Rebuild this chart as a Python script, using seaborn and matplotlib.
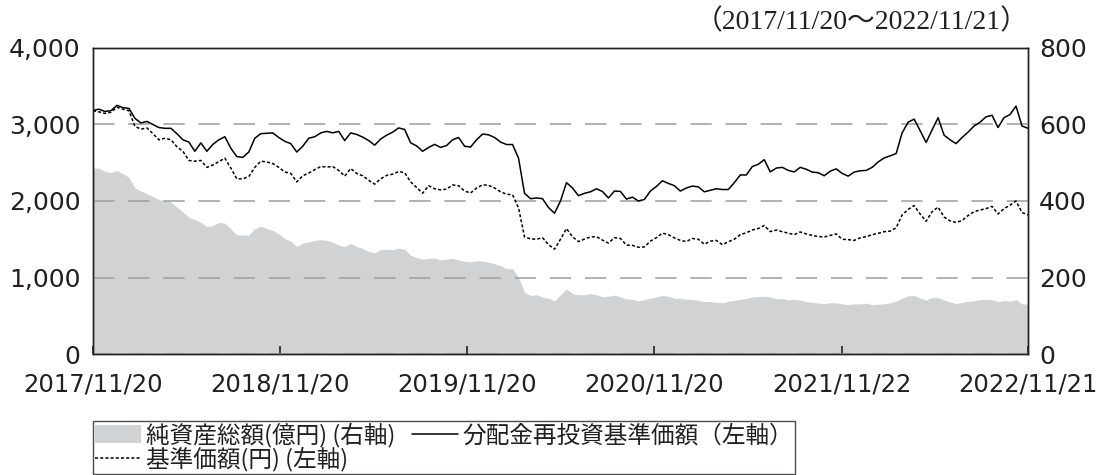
import numpy as np
import pandas as pd
import matplotlib
matplotlib.use("Agg")
import matplotlib.pyplot as plt
import seaborn as sns
from matplotlib.patches import Patch
from matplotlib.lines import Line2D

# データ (チャートから読み取り、約12日間隔)
START, END = "2017-11-20", "2022-11-21"

reinvest_nav = [  # 分配金再投資基準価額 (左軸)
    3184, 3200, 3170, 3180, 3250, 3220, 3210, 3080, 3020, 3040, 3000, 2960, 2950, 2950,
    2880, 2800, 2770, 2650, 2760, 2650, 2740, 2800, 2840, 2690, 2580, 2570, 2640,
    2820, 2880, 2885, 2890, 2830, 2780, 2750, 2640, 2716, 2820, 2840, 2890, 2910, 2891,
    2910, 2790, 2890, 2870, 2835, 2790, 2730, 2810, 2860, 2900, 2955, 2935,
    2760, 2720, 2650, 2700, 2740, 2700, 2725, 2800, 2830, 2716, 2705, 2800, 2875, 2865,
    2830, 2770, 2738, 2738, 2560, 2100, 2030, 2040, 2030, 1915, 1840,
    2000, 2240, 2170, 2070, 2100, 2120, 2160, 2124, 2040, 2130, 2125, 2025, 2050, 2000,
    2020, 2130, 2190, 2264, 2230, 2200, 2130, 2170, 2195, 2185, 2120, 2140,
    2160, 2150, 2150, 2240, 2340, 2340, 2450, 2480, 2540, 2380, 2430, 2440, 2400, 2380,
    2440, 2415, 2378, 2370, 2330, 2390, 2420, 2360, 2325, 2378, 2395, 2400,
    2440, 2510, 2562, 2590, 2620, 2890, 3030, 3070, 2920, 2765, 2930, 3088, 2860, 2800,
    2750, 2830, 2900, 2980, 3030, 3100, 3120, 2960, 3090, 3130, 3240, 2980, 2950,
]

base_nav = [  # 基準価額 (左軸)
    3180, 3165, 3145, 3160, 3225, 3200, 3180, 2975, 2940, 2955, 2880, 2800, 2820, 2800,
    2710, 2650, 2530, 2520, 2530, 2440, 2470, 2515, 2560, 2430, 2290, 2290, 2320,
    2440, 2520, 2510, 2490, 2440, 2380, 2360, 2250, 2330, 2365, 2410, 2450, 2445, 2450,
    2400, 2325, 2425, 2360, 2330, 2270, 2220, 2290, 2335, 2350, 2385, 2370,
    2250, 2175, 2102, 2200, 2160, 2146, 2155, 2210, 2200, 2130, 2105, 2170, 2212, 2205,
    2170, 2120, 2089, 2081, 1910, 1530, 1505, 1500, 1520, 1430, 1370,
    1500, 1640, 1533, 1470, 1502, 1530, 1533, 1489, 1450, 1520, 1511, 1424, 1420, 1395,
    1400, 1475, 1520, 1580, 1560, 1518, 1485, 1470, 1510, 1500, 1435, 1475,
    1485, 1430, 1467, 1500, 1560, 1585, 1621, 1640, 1680, 1600, 1620, 1599, 1580, 1560,
    1595, 1570, 1550, 1535, 1530, 1550, 1570, 1500, 1495, 1485, 1518, 1535,
    1560, 1577, 1599, 1606, 1650, 1818, 1890, 1940, 1830, 1735, 1860, 1920, 1790, 1740,
    1720, 1745, 1810, 1860, 1883, 1900, 1930, 1830, 1900, 1945, 2000, 1850, 1818,
]

net_assets = [  # 純資産総額 億円 (右軸)
    486, 486, 478, 474, 480, 471, 462, 434, 426, 419, 412, 403, 402, 397,
    384, 372, 357, 351, 344, 333, 336, 344, 342, 327, 311, 311, 311,
    328, 334, 328, 323, 314, 302, 295, 281, 290, 293, 297, 299, 297, 292,
    285, 281, 289, 281, 276, 268, 265, 273, 274, 273, 277, 274,
    258, 252, 248, 250, 251, 246, 248, 250, 246, 242, 241, 244, 243, 240,
    236, 231, 223, 223, 200, 161, 153, 155, 149, 146, 139,
    155, 170, 158, 155, 155, 158, 155, 150, 151, 154, 149, 144, 143, 139,
    142, 146, 149, 153, 151, 145, 146, 143, 143, 140, 137, 137,
    135, 134, 138, 140, 143, 145, 149, 150, 151, 149, 145, 145, 141, 143,
    141, 137, 135, 133, 132, 134, 134, 131, 129, 131, 131, 133,
    129, 130, 131, 134, 138, 146, 152, 153, 146, 141, 148, 148, 141, 136,
    132, 135, 138, 139, 142, 143, 142, 137, 140, 138, 142, 131, 131,
]

x_tick_dates = ["2017-11-20", "2018-11-20", "2019-11-20", "2020-11-20", "2021-11-22", "2022-11-21"]
x_tick_labels = ["2017/11/20", "2018/11/20", "2019/11/20", "2020/11/20", "2021/11/22", "2022/11/21"]
left_ticks = [0, 1000, 2000, 3000, 4000]
right_ticks = [0, 200, 400, 600, 800]

dates = pd.date_range(START, END, periods=len(reinvest_nav))
df = pd.DataFrame({"date": dates, "reinvest": reinvest_nav, "nav": base_nav, "assets": net_assets})

# スタイル
sns.set_style("ticks")
plt.rcParams["font.family"] = ["Noto Sans CJK JP", "DejaVu Sans"]
TXT = "#231f20"
GRAY_FILL = "#d1d2d4"
NUM_FONT = ["DejaVu Sans"]

fig = plt.figure(figsize=(10.99, 4.75), dpi=100)
ax1 = fig.add_axes([0.0846, 0.2547, 0.8508, 0.6443])
ax2 = ax1.twinx()

# 純資産 (右軸) を背面に
ax2.fill_between(df["date"], df["assets"], 0, color=GRAY_FILL, linewidth=0)
ax1.set_zorder(ax2.get_zorder() + 1)
ax1.patch.set_visible(False)

sns.lineplot(data=df, x="date", y="reinvest", ax=ax1, color="black", linewidth=1.1)
sns.lineplot(data=df, x="date", y="nav", ax=ax1, color="black", linewidth=1.1,
             linestyle=(0, (2, 1.4)))

ax1.set_xlim(dates[0], dates[-1])
ax1.set_ylim(0, 4000)
ax2.set_ylim(0, 800)

ax1.set_yticks(left_ticks)
ax1.set_yticklabels([f"{v:,}" for v in left_ticks])
ax2.set_yticks(right_ticks)
ax2.set_yticklabels([str(v) for v in right_ticks])
ax1.set_xticks(pd.to_datetime(x_tick_dates))
ax1.set_xticklabels(x_tick_labels)

ax1.yaxis.grid(True, color="#9d9d9d", linewidth=1.1, linestyle=(0, (14, 9)))
ax1.xaxis.grid(False)
ax1.set_xlabel("")
ax1.set_ylabel("")

ax1.tick_params(axis="x", direction="in", length=6, width=1.2, pad=13, labelsize=17.5, labelcolor=TXT, color=TXT)
ax1.tick_params(axis="y", direction="in", length=0, pad=9, labelsize=18, labelcolor=TXT)
ax2.tick_params(axis="y", direction="in", length=0, pad=8, labelsize=18, labelcolor=TXT)
for lab in ax1.get_xticklabels() + ax1.get_yticklabels() + ax2.get_yticklabels():
    lab.set_family(NUM_FONT)

for ax in (ax1, ax2):
    for sp in ax.spines.values():
        sp.set_visible(True)
        sp.set_color(TXT)
        sp.set_linewidth(1.0)

fig.text(0.936, 0.953, "（2017/11/20～2022/11/21）", ha="right", va="center", fontsize=20,
         color=TXT, family=["Liberation Serif", "Noto Sans CJK JP"])

handles = [
    Patch(facecolor=GRAY_FILL, edgecolor="none", label="純資産総額(億円) (右軸)"),
    Line2D([], [], color="black", linewidth=1.1, linestyle=(0, (2, 1.4)), label="基準価額(円) (左軸)"),
    Line2D([], [], color="black", linewidth=1.1, label="分配金再投資基準価額（左軸）"),
]
leg = fig.legend(handles=handles, loc="upper left", bbox_to_anchor=(0.0846, 0.114), ncol=2,
                 fontsize=17, frameon=True, fancybox=False, edgecolor=TXT, borderpad=0.08,
                 handlelength=1.95, handleheight=0.8, handletextpad=0.2, columnspacing=0.7,
                 labelspacing=-0.02, borderaxespad=0)
leg.get_frame().set_linewidth(1.0)
for t in leg.get_texts():
    t.set_color(TXT)

fig.savefig("out.png", dpi=100)
